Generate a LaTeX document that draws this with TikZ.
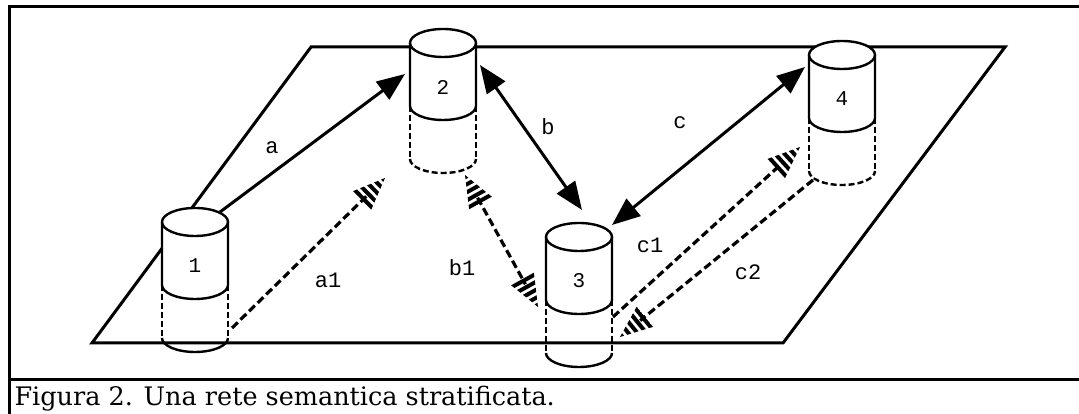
\documentclass[tikz,border=0pt]{standalone}
\usepackage{fontspec}
\setmainfont{DejaVu Serif}
\setmonofont{Liberation Mono}
\usepackage{tikz}
\usetikzlibrary{calc,arrows.meta}

\tikzset{
  frame/.style={line width=3pt},
  plane/.style={line width=3pt, line join=miter},
  rim/.style={line width=2.4pt},
  backline/.style={dash pattern=on 6pt off 3pt},
  link/.style={line width=3pt, -{Triangle[length=28pt,width=22pt]}},
  twolink/.style={line width=3pt, {Triangle[length=28pt,width=22pt]}-{Triangle[length=28pt,width=22pt]}},
  lowlink/.style={line width=3.2pt, dash pattern=on 8pt off 4pt},
  num/.style={font=\ttfamily\fontsize{21}{25}\selectfont},
  tag/.style={font=\ttfamily\fontsize{22}{26}\selectfont}
}

% cylinder: name, x and y of the top centre, number, style of the bottom rim
\newcommand{\drum}[5]{%
  \begin{scope}[shift={(#2,#3)}]
    \fill[white] (-33,0) -- (-33,-63) arc (180:360:33pt and 14pt) -- (33,0) arc (0:180:33pt and 14pt);
    \draw[rim] (0,0) ellipse (33pt and 14pt);
    \draw[rim] (-33,0) -- (-33,-63) arc (180:360:33pt and 14pt) -- (33,0);
    \draw[rim, backline] (-33,-63) -- (-33,-116) (33,-63) -- (33,-116);
    \draw[rim, #5] (-33,-116) arc (180:360:33pt and 14pt);
    \node[num] (#1) at (0,-44) {#4};
  \end{scope}}

% striped head for the dashed links: point on the shaft, tip
\newcommand{\hatchhead}[2]{%
  \begin{scope}
    \clip ($(#2)!32pt!(#1)!13pt!90:(#2)$) -- (#2) -- ($(#2)!32pt!(#1)!13pt!-90:(#2)$) -- cycle;
    \draw[line width=32pt, dash pattern=on 4pt off 3pt] ($(#2)!32pt!(#1)$) -- (#2);
  \end{scope}}

\begin{document}
\begin{tikzpicture}[x=1pt,y=1pt]
  \useasboundingbox (0,0) rectangle (1079,414);
  \fill[white] (0,0) rectangle (1079,414);

  % box and caption
  \draw[frame] (9,0) -- (9,407) -- (1079,407);
  \draw[frame] (9,34) -- (1079,34);
  \node[anchor=base west, font=\fontsize{25.5}{30}\selectfont] (caption) at (11,8)
    {Figura 2. Una rete semantica stratificata.};

  % the plane
  \draw[plane] (92,71) -- (311,367) -- (1005,367) -- (783,71) -- cycle;

  % the four cylinders
  \drum{d1}{195}{192}{1}{solid}
  \drum{d2}{443}{371}{2}{backline}
  \drum{d3}{579}{177}{3}{solid}
  \drum{d4}{842}{359}{4}{backline}

  % ends of the links
  \coordinate (a-from) at (220,202);
  \coordinate (a-to) at (405,340);
  \coordinate (b-from) at (480,349);
  \coordinate (b-to) at (582,204);
  \coordinate (c-from) at (612,189);
  \coordinate (c-to) at (805,347);
  \coordinate (a1-from) at (232,86);
  \coordinate (a1-to) at (385,236);
  \coordinate (b1-from) at (465,239);
  \coordinate (b1-to) at (538,107);
  \coordinate (c1-from) at (613,97);
  \coordinate (c1-to) at (800,267);
  \coordinate (c2-from) at (813,234);
  \coordinate (c2-to) at (620,77);

  % upper links
  \draw[link] (a-from) -- (a-to);
  \draw[twolink] (b-from) -- (b-to);
  \draw[twolink] (c-from) -- (c-to);

  % lower links
  \draw[lowlink, shorten >=26pt] (a1-from) -- (a1-to);
  \hatchhead{a1-from}{a1-to}
  \draw[lowlink, shorten <=26pt, shorten >=26pt] (b1-from) -- (b1-to);
  \hatchhead{b1-to}{b1-from}
  \hatchhead{b1-from}{b1-to}
  \draw[lowlink, shorten >=26pt] (c1-from) -- (c1-to);
  \hatchhead{c1-from}{c1-to}
  \draw[lowlink, shorten >=26pt] (c2-from) -- (c2-to);
  \hatchhead{c2-from}{c2-to}

  % link names
  \node[tag] (la) at (272,266) {a};
  \node[tag] (lb) at (548,287) {b};
  \node[tag] (lc) at (680,291) {c};
  \node[tag] (la1) at (328,134) {a1};
  \node[tag] (lb1) at (462,146) {b1};
  \node[tag] (lc1) at (650,169) {c1};
  \node[tag] (lc2) at (748,142) {c2};
\end{tikzpicture}
\end{document}
